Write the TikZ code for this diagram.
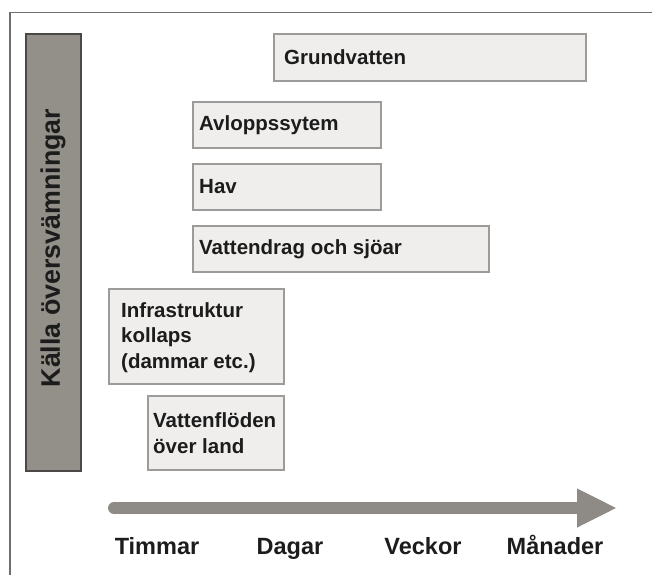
\documentclass[tikz,border=0pt]{standalone}
\usepackage{fontspec}
\setmainfont{Liberation Sans}
\usetikzlibrary{arrows.meta}
\definecolor{boxfill}{HTML}{EFEEED}
\definecolor{boxline}{HTML}{9C9B99}
\definecolor{barfill}{HTML}{938F89}
\definecolor{barline}{HTML}{4A4947}
\definecolor{arrowcol}{HTML}{8E8B86}
\definecolor{framecol}{HTML}{6E6E6E}
\definecolor{txtcol}{HTML}{1C1C1C}
\tikzset{
  srcbox/.style={draw=boxline, fill=boxfill, line width=2pt, rectangle, inner sep=0pt, anchor=north west},
  boxtxt/.style={anchor=west, inner sep=0pt, align=left, text=txtcol, font=\fontsize{20.5}{25.5}\selectfont\bfseries},
  axtxt/.style={inner sep=0pt, anchor=base, text=txtcol, font=\fontsize{23.5}{28}\selectfont\bfseries},
}
\begin{document}
\begin{tikzpicture}[x=1pt,y=-1pt]
\useasboundingbox (0,0) rectangle (652,575);
\fill[white] (0,0) rectangle (652,575);
% frame
\coordinate (fb) at (10,575);
\coordinate (fc) at (10,12.5);
\coordinate (fr) at (652,12.5);
\draw[framecol, line width=1.8pt] (fb) -- (fc) -- (fr);
% source bar
\node[draw=barline, fill=barfill, line width=2pt, inner sep=0pt, anchor=north west,
      minimum width=55pt, minimum height=437pt] (bar) at (25,33) {};
\node[rotate=90, text=txtcol, inner sep=0pt, font=\fontsize{26.8}{30}\selectfont\bfseries] (bartxt) at ([xshift=-0.5pt,yshift=4.5pt]bar.center) {Källa översvämningar};
% boxes
\node[srcbox, minimum width=312pt, minimum height=47pt] (grund) at (273,33) {};
\node[boxtxt] (grundt) at ([xshift=11pt]grund.west) {Grundvatten};
\node[srcbox, minimum width=188pt, minimum height=46pt] (avl) at (192,101) {};
\node[boxtxt] (avlt) at ([xshift=7pt]avl.west) {Avloppssytem};
\node[srcbox, minimum width=188pt, minimum height=46pt] (hav) at (192,163) {};
\node[boxtxt] (havt) at ([xshift=7pt]hav.west) {Hav};
\node[srcbox, minimum width=296pt, minimum height=46pt] (vatt) at (192,225) {};
\node[boxtxt] (vattt) at ([xshift=7pt]vatt.west) {Vattendrag och sjöar};
\node[srcbox, minimum width=175pt, minimum height=95pt] (infra) at (108,288) {};
\node[boxtxt] (infrat) at ([xshift=13pt,yshift=-1pt]infra.west) {Infrastruktur\\kollaps\\(dammar etc.)};
\node[srcbox, minimum width=136pt, minimum height=74pt] (flod) at (147,395) {};
\node[boxtxt] (flodt) at ([xshift=6pt,yshift=0pt]flod.west) {Vattenflöden\\över land};
% time axis
\coordinate (tstart) at (114,508);
\coordinate (tend) at (617,508);
\draw[arrowcol, line width=12pt, line cap=round, -{Triangle[length=40pt,width=36pt]}] (tstart) -- (tend);
\node[axtxt] (t1) at (157,554) {Timmar};
\node[axtxt] (t2) at (290,554) {Dagar};
\node[axtxt] (t3) at (423,554) {Veckor};
\node[axtxt] (t4) at (555,554) {Månader};
\end{tikzpicture}
\end{document}
